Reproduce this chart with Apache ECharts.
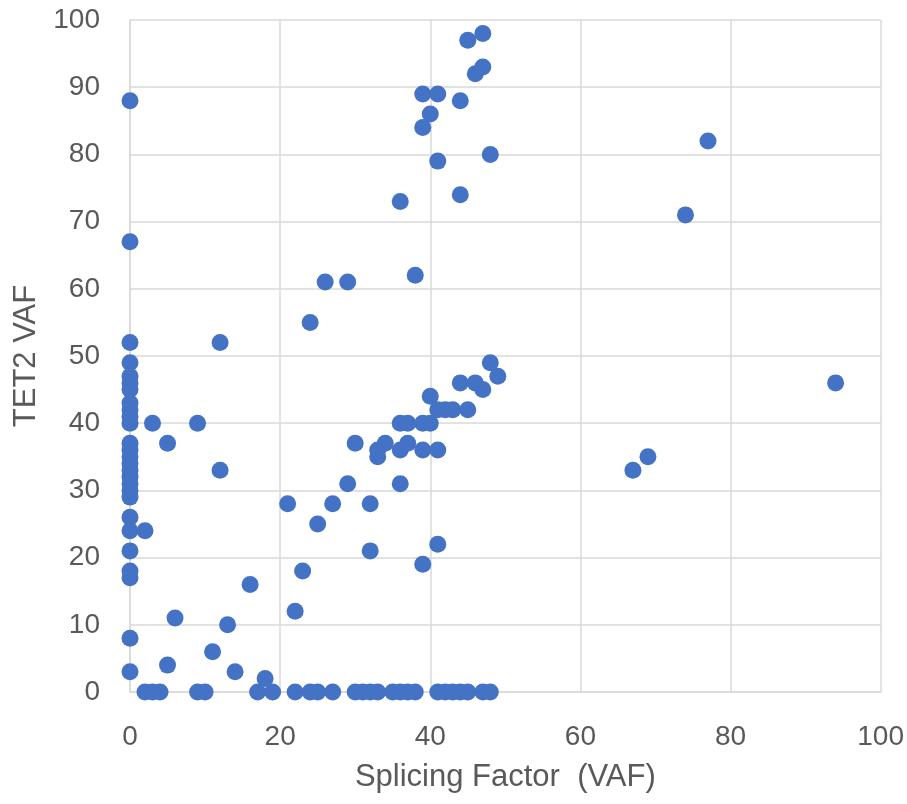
<!DOCTYPE html>
<html>
<head>
<meta charset="utf-8">
<script src="https://cdn.jsdelivr.net/npm/echarts@6/dist/echarts.min.js"></script>
<style>
html,body{margin:0;padding:0;background:#fff;}
#chart{width:907px;height:804px;}
</style>
</head>
<body>
<div id="chart"></div>
<script>
// Splicing factor VAF (x) and TET2 VAF (y), one entry per patient
var splicingVAF = [
  0,0,0,0,0,0,0,0,0,0,0,0,0,0,0,0,0,0,0,0,0,0,0,0,0,0,0,
  3,9,5,12,12,2,16,6,13,11,5,14,18,22,23,21,25,27,29,30,32,32,33,33,34,
  36,36,36,37,37,39,40,39,40,41,41,42,43,45,44,46,47,48,49,39,41,
  24,26,29,38,36,41,44,48,39,40,39,41,44,46,47,45,47,
  67,69,74,77,94,
  2,3,4,9,10,17,19,22,24,25,27,30,31,32,33,35,36,37,38,41,42,43,44,45,47,48
];
var tet2VAF = [
  88,67,52,49,47,46,45,43,42,41,40,37,36,35,34,33,32,31,30,29,26,24,21,18,17,8,3,
  40,40,37,52,33,24,16,11,10,6,4,3,2,12,18,28,25,28,31,37,21,28,36,35,37,
  31,36,40,40,37,40,44,36,40,42,36,42,42,42,46,46,45,49,47,19,22,
  55,61,61,62,73,79,74,80,84,86,89,89,88,92,93,97,98,
  33,35,71,82,46,
  0,0,0,0,0,0,0,0,0,0,0,0,0,0,0,0,0,0,0,0,0,0,0,0,0,0
];
var xTicks = [0,20,40,60,80,100];
var yTicks = [0,10,20,30,40,50,60,70,80,90,100];

var points = splicingVAF.map(function(x,i){return [x, tet2VAF[i]];});

var chart = echarts.init(document.getElementById('chart'), null, {renderer:'canvas'});
var txt = '#595959';
var gridC = '#d9d9d9';
chart.setOption({
  animation:false,
  backgroundColor:'#ffffff',
  grid:{left:130,right:25,top:20,bottom:112,containLabel:false},
  xAxis:{
    type:'value',min:xTicks[0],max:xTicks[xTicks.length-1],interval:20,
    name:'Splicing Factor  (VAF)',nameLocation:'middle',nameGap:70,
    nameTextStyle:{color:txt,fontSize:31,fontFamily:'Liberation Sans, Arial, sans-serif'},
    axisLine:{show:true,lineStyle:{color:gridC,width:1.5}},
    axisTick:{show:false},
    axisLabel:{color:txt,fontSize:28,margin:31,fontFamily:'Liberation Sans, Arial, sans-serif'},
    splitLine:{show:true,lineStyle:{color:gridC,width:1.5}}
  },
  yAxis:{
    type:'value',min:yTicks[0],max:yTicks[yTicks.length-1],interval:10,
    name:'TET2 VAF',nameLocation:'middle',nameGap:86,nameRotate:90,
    nameTextStyle:{color:txt,fontSize:31,fontFamily:'Liberation Sans, Arial, sans-serif'},
    axisLine:{show:true,lineStyle:{color:gridC,width:1.5}},
    axisTick:{show:false},
    axisLabel:{color:txt,fontSize:28,margin:30,fontFamily:'Liberation Sans, Arial, sans-serif'},
    splitLine:{show:true,lineStyle:{color:gridC,width:1.5}}
  },
  series:[{
    type:'scatter',
    data:points,
    symbol:'circle',
    symbolSize:17,
    clip:false,
    itemStyle:{color:'#4472C4',opacity:1}
  }]
});
</script>
</body>
</html>
